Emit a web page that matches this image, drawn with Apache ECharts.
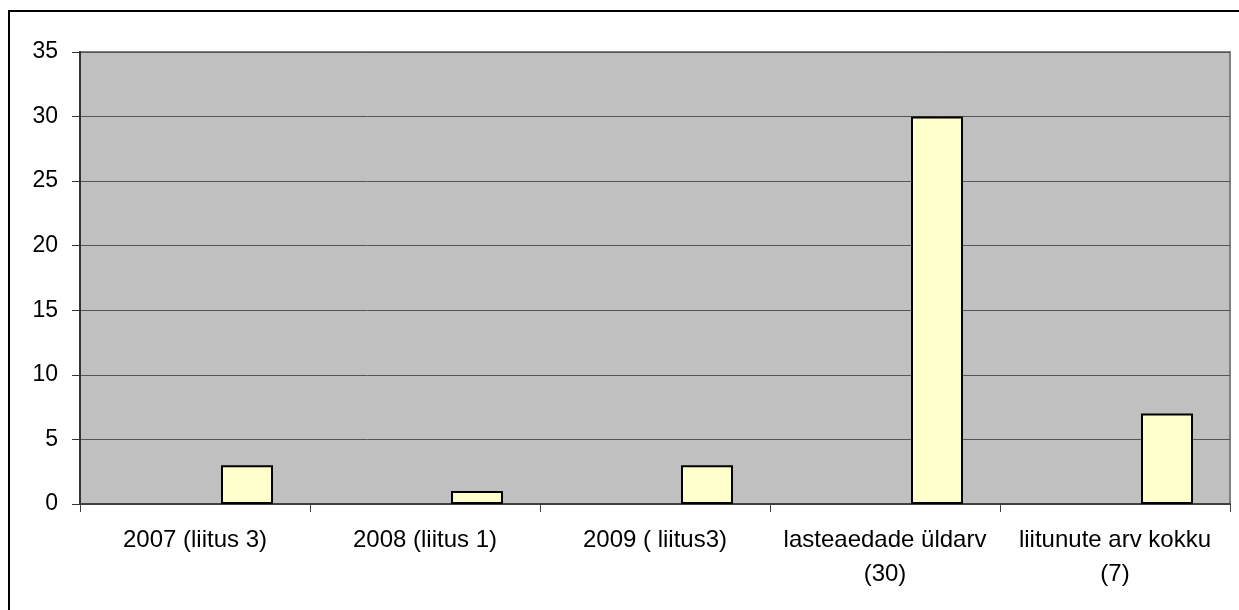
<!DOCTYPE html>
<html>
<head>
<meta charset="utf-8">
<script src="https://cdn.jsdelivr.net/npm/echarts@6/dist/echarts.min.js"></script>
<style>
html,body{margin:0;padding:0;background:#fff;}
#chart{width:1239px;height:610px;}
</style>
</head>
<body>
<div id="chart"></div>
<script>
const categories = ['2007 (liitus 3)', '2008 (liitus 1)', '2009 ( liitus3)', 'lasteaedade üldarv\n(30)', 'liitunute arv kokku\n(7)'];
const emptySeries = [null, null, null, null, null];
const values = [3, 1, 3, 30, 7];
const yTicks = { min: 0, max: 35, interval: 5 };

const chart = echarts.init(document.getElementById('chart'), null, { renderer: 'canvas' });
chart.setOption({
  animation: false,
  backgroundColor: '#ffffff',
  graphic: [{
    type: 'rect',
    silent: true,
    shape: { x: 9, y: 11, width: 1240, height: 620 },
    style: { fill: 'none', stroke: '#000000', lineWidth: 2 },
    z: 100
  }],
  grid: {
    left: 80, top: 52, right: 9, bottom: 106,
    show: true,
    backgroundColor: '#C0C0C0',
    borderColor: '#808080',
    borderWidth: 2
  },
  xAxis: {
    type: 'category',
    data: categories,
    boundaryGap: true,
    axisLine: { show: true, lineStyle: { color: '#404040', width: 2 } },
    axisTick: { show: true, length: 8, alignWithLabel: false, lineStyle: { color: '#404040', width: 1 } },
    axisLabel: {
      interval: 0,
      margin: 19,
      color: '#000000',
      fontFamily: '"Liberation Sans", Arial, sans-serif',
      fontSize: 24,
      lineHeight: 34,
      align: 'center'
    },
    splitLine: { show: false }
  },
  yAxis: {
    type: 'value',
    min: yTicks.min,
    max: yTicks.max,
    interval: yTicks.interval,
    axisLine: { show: true, onZero: false, lineStyle: { color: '#333333', width: 2 } },
    axisTick: { show: true, length: 8, lineStyle: { color: '#333333', width: 1 } },
    axisLabel: {
      margin: 22,
      color: '#000000',
      fontFamily: '"Liberation Sans", Arial, sans-serif',
      fontSize: 23
    },
    splitLine: { show: true, lineStyle: { color: '#555555', width: 1 } }
  },
  series: [
    {
      type: 'bar',
      name: 'tühi',
      data: emptySeries,
      barWidth: 52,
      barGap: '100%',
      itemStyle: { color: '#FFFFCC', borderColor: '#000000', borderWidth: 2 }
    },
    {
      type: 'bar',
      name: 'lasteaiad',
      data: values,
      barWidth: 52,
      barGap: '100%',
      itemStyle: { color: '#FFFFCC', borderColor: '#000000', borderWidth: 2 }
    }
  ]
});
</script>
</body>
</html>
